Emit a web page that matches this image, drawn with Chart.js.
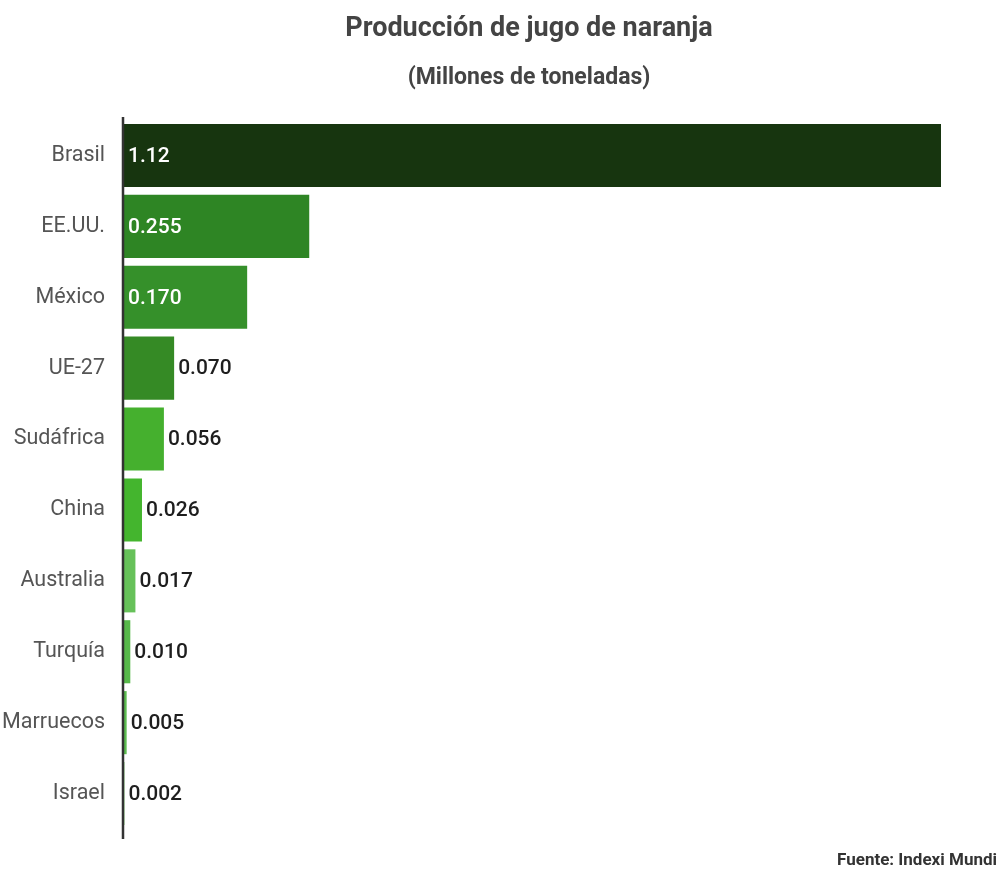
<!DOCTYPE html>
<html>
<head>
<meta charset="utf-8">
<script src="https://cdn.jsdelivr.net/npm/chart.js@4"></script>
<style>
  html, body { margin: 0; padding: 0; background: #fff; }
  #wrap { width: 1000px; height: 872px; position: relative; }
</style>
</head>
<body>
<div id="wrap"><canvas id="c" width="1000" height="872"></canvas></div>
<script>
const categories = ['Brasil', 'EE.UU.', 'México', 'UE-27', 'Sudáfrica', 'China', 'Australia', 'Turquía', 'Marruecos', 'Israel'];
const values = [1.12, 0.255, 0.170, 0.070, 0.056, 0.026, 0.017, 0.010, 0.005, 0.002];
const barColors = ['#17350f', '#2e8524', '#35902a', '#358a25', '#45b02e', '#44b52e', '#66c159', '#57b84a', '#5dbd50', '#7fcb70'];
const titleText = 'Producción de jugo de naranja';
const subtitleText = '(Millones de toneladas)';
const sourceText = 'Fuente: Indexi Mundi';

const FONT = 'Roboto, "Noto Sans", sans-serif';

function fmt(v) { return v >= 1 ? v.toFixed(2) : v.toFixed(3); }

const decorPlugin = {
  id: 'decor',
  afterDatasetsDraw(chart) {
    const ctx = chart.ctx;
    const area = chart.chartArea;
    const meta = chart.getDatasetMeta(0);
    ctx.save();
    // value labels
    ctx.font = '500 21px ' + FONT;
    ctx.textBaseline = 'middle';
    ctx.textAlign = 'left';
    meta.data.forEach((bar, i) => {
      const txt = fmt(values[i]);
      const w = ctx.measureText(txt).width;
      const barW = bar.x - bar.base;
      if (barW > w + 14) {
        ctx.fillStyle = '#ffffff';
        ctx.fillText(txt, bar.base + 5, bar.y + 1);
      } else {
        ctx.fillStyle = '#1e1e1e';
        ctx.fillText(txt, bar.x + 4, bar.y + 1);
      }
    });
    // axis line
    ctx.strokeStyle = '#333333';
    ctx.lineWidth = 2.5;
    ctx.beginPath();
    ctx.moveTo(area.left, area.top - 3);
    ctx.lineTo(area.left, area.bottom + 10);
    ctx.stroke();
    // titles
    const cx = (area.left + 935) / 2;
    ctx.textAlign = 'center';
    ctx.fillStyle = '#444444';
    ctx.font = 'bold 27px ' + FONT;
    ctx.fillText(titleText, cx, 29);
    ctx.font = 'bold 23px ' + FONT;
    ctx.fillText(subtitleText, cx, 78);
    // source
    ctx.textAlign = 'right';
    ctx.font = 'bold 17px ' + FONT;
    ctx.fillStyle = '#333333';
    ctx.fillText(sourceText, 997, 861);
    ctx.restore();
  }
};

new Chart(document.getElementById('c'), {
  type: 'bar',
  data: {
    labels: categories,
    datasets: [{
      data: values,
      backgroundColor: barColors,
      borderWidth: 0,
      barPercentage: 0.89,
      categoryPercentage: 1.0
    }]
  },
  options: {
    indexAxis: 'y',
    responsive: false,
    animation: false,
    devicePixelRatio: 1,
    layout: { padding: { top: 120, bottom: 43, left: 0, right: 59 } },
    plugins: {
      legend: { display: false },
      title: { display: false },
      tooltip: { enabled: false }
    },
    scales: {
      x: {
        display: false,
        min: 0,
        max: 1.12
      },
      y: {
        afterFit(scale) { scale.width = 123; },
        grid: { display: false, drawTicks: false },
        border: { display: false },
        ticks: {
          color: '#555555',
          font: { family: FONT, size: 21.5 },
          padding: 18
        }
      }
    }
  },
  plugins: [decorPlugin]
});
</script>
</body>
</html>
